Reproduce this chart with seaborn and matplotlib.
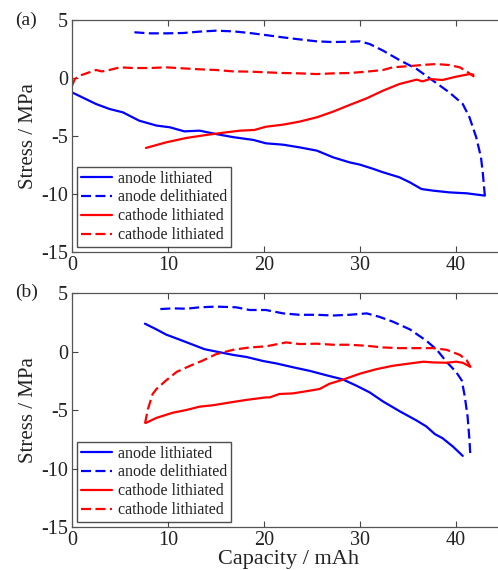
import seaborn as sns
import matplotlib.pyplot as plt
import pandas as pd

sns.set_theme(style="ticks")
plt.rcParams["font.family"] = ["Liberation Serif", "DejaVu Serif"]
plt.rcParams["axes.unicode_minus"] = False

# panel (a)
a_anode_lith_x = [0, 2.5, 3.9, 5.3, 7.0, 8.8, 10.2, 11.7, 13.3, 15, 16.8, 18.9, 20.2, 22, 23.7, 25.5,
                  27.2, 28.9, 30, 31.4, 32.4, 34.1, 35.2, 36.4, 37.6, 39.3, 41.1, 43]
a_anode_lith_y = [-1.24, -2.24, -2.67, -2.96, -3.68, -4.1, -4.25, -4.6, -4.54, -4.83, -5.1, -5.34, -5.63,
                  -5.75, -5.98, -6.26, -6.84, -7.27, -7.47, -7.84, -8.13, -8.56, -9.0, -9.57, -9.71,
                  -9.86, -9.94, -10.14]
a_anode_deli_x = [6.5, 8.1, 9.8, 11.6, 13.3, 15, 16.8, 18.5, 20.2, 22, 23.7, 25.5, 27.2, 28.9, 30, 31,
                  32.4, 34.1, 35.9, 37.6, 39.3, 40.7, 41.4, 42.1, 42.6, 42.8, 43]
a_anode_deli_y = [3.94, 3.85, 3.85, 3.88, 4.0, 4.08, 4.02, 3.88, 3.7, 3.5, 3.33, 3.16, 3.1, 3.13, 3.16,
                  2.93, 2.36, 1.55, 0.78, -0.23, -1.24, -2.24, -3.39, -5.1, -6.84, -8.28, -10.14]
a_cath_lith_x = [7.7, 9.8, 11.9, 14, 16.1, 17.5, 19, 20.2, 22, 23.7, 25.5, 27.2, 28.9, 30.7, 32.4, 34.1,
                 35.9, 36.5, 37.3, 38.6, 40, 41.4, 41.8]
a_cath_lith_y = [-6.03, -5.55, -5.17, -4.91, -4.68, -4.54, -4.48, -4.2, -4.02, -3.76, -3.39, -2.9, -2.33,
                 -1.75, -1.09, -0.52, -0.14, -0.29, -0.09, -0.17, 0.11, 0.34, 0.29]
a_cath_deli_x = [0, 0.3, 0.8, 1.8, 2.5, 3.1, 3.6, 5, 6.4, 8.1, 9.8, 11.6, 13.3, 15, 16.8, 18.5, 20.2, 22,
                 23.7, 25.5, 27.2, 28.9, 30.7, 32.4, 33.4, 35.2, 36.9, 37.9, 39.3, 40.4, 41.1, 41.9]
a_cath_deli_y = [-0.66, -0.09, 0.2, 0.49, 0.69, 0.57, 0.63, 0.92, 0.86, 0.86, 0.92, 0.83, 0.75, 0.69,
                 0.57, 0.55, 0.49, 0.43, 0.4, 0.34, 0.4, 0.43, 0.55, 0.69, 0.92, 1.03, 1.15, 1.2, 1.12,
                 0.92, 0.57, 0.11]

# panel (b)
b_anode_lith_x = [7.6, 8.8, 9.8, 11.2, 12.6, 13.8, 15, 16.8, 18.2, 19.9, 21.3, 23, 24.8, 26.5, 28.2,
                  29.6, 31, 32.4, 34.1, 35.9, 36.9, 37.8, 38.6, 39.7, 40.7]
b_anode_lith_y = [2.38, 1.89, 1.45, 1.02, 0.58, 0.2, 0, -0.29, -0.47, -0.81, -1.02, -1.34, -1.66, -2.03,
                  -2.38, -2.91, -3.49, -4.27, -5.09, -5.9, -6.4, -7.06, -7.41, -8.14, -8.92]
b_anode_deli_x = [9.2, 10.5, 11.9, 13.3, 15, 17.1, 18.5, 20.2, 22, 23.7, 25.5, 27.2, 28.9, 30.7, 32,
                  33.4, 35.2, 36.9, 38, 39, 40, 40.6, 40.9, 41.2, 41.4, 41.5]
b_anode_deli_y = [3.63, 3.69, 3.66, 3.78, 3.84, 3.78, 3.55, 3.55, 3.26, 3.14, 3.14, 3.08, 3.14, 3.26,
                  2.97, 2.56, 1.89, 0.93, 0.15, -0.87, -1.74, -2.47, -3.78, -5.52, -7.56, -9.0]
b_cath_lith_x = [7.7, 8.8, 10.5, 11.9, 13.3, 14.7, 16.4, 18.2, 20.2, 20.6, 21.6, 23, 24.8, 25.8, 26.8,
                 28.2, 30, 31.7, 33.4, 35.2, 36.6, 37.6, 39, 40, 40.7, 41.5]
b_cath_lith_y = [-6.1, -5.67, -5.23, -5.0, -4.71, -4.59, -4.36, -4.13, -3.92, -3.92, -3.63, -3.58, -3.34,
                 -3.2, -2.76, -2.41, -1.89, -1.51, -1.22, -1.02, -0.87, -0.93, -0.96, -0.87, -0.96, -1.31]
b_cath_deli_x = [7.6, 7.9, 8.4, 8.8, 9.8, 10.9, 12.3, 13.6, 15, 16.8, 18.5, 20.2, 22.3, 23.7, 25.5, 27.2,
                 28.9, 30.7, 32.4, 34.1, 35.9, 37.6, 39, 40.4, 41.1, 41.5]
b_cath_deli_y = [-6.16, -4.94, -3.63, -3.2, -2.47, -1.74, -1.22, -0.78, -0.23, 0.15, 0.35, 0.44, 0.78,
                 0.64, 0.67, 0.58, 0.58, 0.49, 0.35, 0.29, 0.29, 0.29, 0.15, -0.29, -0.73, -1.31]

labels = ["anode lithiated", "anode delithiated", "cathode lithiated", "cathode lithiated"]
colors = ["#0000ff", "#0000ff", "#ff0000", "#ff0000"]
dashed = [False, True, False, True]

panels = [
    ("(a)", [(a_anode_lith_x, a_anode_lith_y), (a_anode_deli_x, a_anode_deli_y),
             (a_cath_lith_x, a_cath_lith_y), (a_cath_deli_x, a_cath_deli_y)]),
    ("(b)", [(b_anode_lith_x, b_anode_lith_y), (b_anode_deli_x, b_anode_deli_y),
             (b_cath_lith_x, b_cath_lith_y), (b_cath_deli_x, b_cath_deli_y)]),
]

fig = plt.figure(figsize=(4.98, 5.70), dpi=100)
ax_a = fig.add_axes([0.1446, 0.5579, 0.8675, 0.407])
ax_b = fig.add_axes([0.1446, 0.0754, 0.8675, 0.4105])

for ax, (tag, series) in zip([ax_a, ax_b], panels):
    for (xs, ys), lab, col, dsh in zip(series, labels, colors, dashed):
        df = pd.DataFrame({"x": xs, "y": ys})
        sns.lineplot(data=df, x="x", y="y", ax=ax, color=col, lw=1.6, sort=False,
                     estimator=None, label=lab)
        if dsh:
            ax.lines[-1].set_dashes((4.5, 2))
    ax.set_xlim(0, 45)
    ax.set_ylim(-15, 5)
    ax.set_xticks([0, 10, 20, 30, 40])
    ax.set_yticks([-15, -10, -5, 0, 5])
    ax.tick_params(direction="in", top=True, right=True, length=4, width=0.8,
                   colors="#444444", labelcolor="#222222", labelsize=14.5, pad=3)
    for s in ax.spines.values():
        s.set_color("#555555")
        s.set_linewidth(0.9)
    ax.set_ylabel("Stress / MPa", fontsize=15, color="#222222", labelpad=2)
    ax.set_xlabel("")
    leg = ax.legend(loc="lower left", fontsize=11.5, frameon=True, fancybox=False,
                    borderaxespad=0.3, handlelength=1.95, labelspacing=0.18,
                    handletextpad=0.35, borderpad=0.25)
    leg.get_frame().set_edgecolor("#222222")
    leg.get_frame().set_linewidth(1.0)
    for t in leg.get_texts():
        t.set_color("#222222")

ax_b.set_xlabel("Capacity / mAh", fontsize=16, color="#222222", labelpad=0)

fig.text(0.03, 0.98, "(a)", fontsize=14, va="top", color="#222222")
fig.text(0.03, 0.502, "(b)", fontsize=14, va="top", color="#222222")

fig.savefig("out.png", dpi=100)
